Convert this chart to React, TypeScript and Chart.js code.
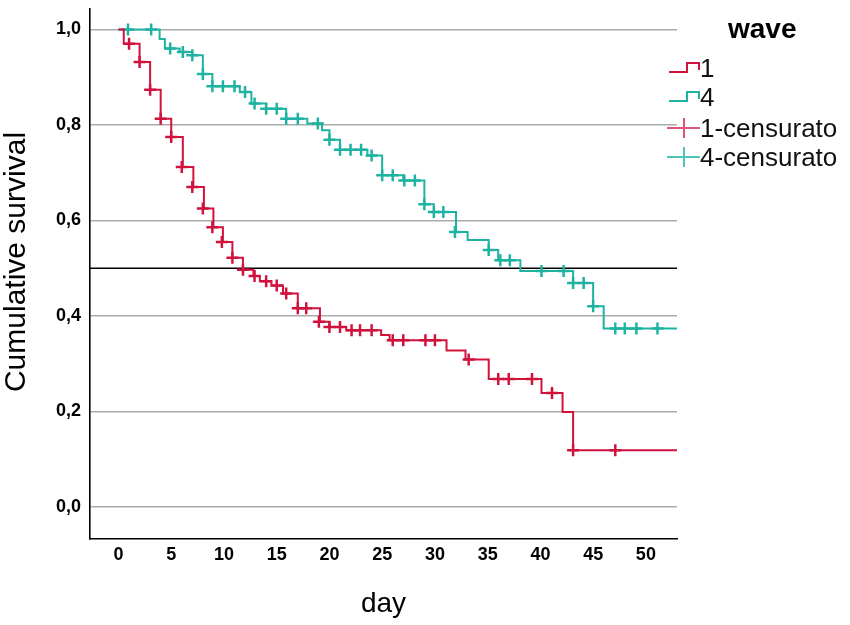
import React, { useEffect, useRef } from 'react';
import { Chart, registerables } from 'chart.js';

Chart.register(...registerables);

// ---- data ----
const wave1Days = [0, 0.5, 2.0, 3.0, 4.0, 5.0, 6.1, 7.1, 8.1, 9.0, 9.9, 10.8, 11.8, 12.8, 13.4, 14.5, 15.6, 17.0, 19.1, 20.0, 21.6, 24.9, 25.7, 31.1, 32.9, 35.1, 40.1, 42.1, 43.1, 53];
const wave1Surv = [1.0, 0.970, 0.932, 0.874, 0.813, 0.775, 0.712, 0.670, 0.625, 0.586, 0.555, 0.522, 0.497, 0.484, 0.473, 0.464, 0.447, 0.416, 0.388, 0.377, 0.370, 0.360, 0.349, 0.328, 0.309, 0.268, 0.239, 0.199, 0.119, 0.119];

const wave4Days = [0, 3.9, 4.4, 5.8, 7.0, 8.0, 8.9, 11.5, 12.6, 14.0, 15.9, 17.9, 19.3, 20.0, 21.0, 23.6, 25.0, 27.0, 29.0, 29.9, 32.0, 33.1, 35.1, 36.0, 38.1, 43.1, 45.0, 46.0, 53];
const wave4Surv = [1.0, 0.980, 0.960, 0.953, 0.946, 0.907, 0.881, 0.869, 0.845, 0.834, 0.813, 0.803, 0.789, 0.769, 0.748, 0.736, 0.695, 0.684, 0.634, 0.618, 0.576, 0.559, 0.538, 0.517, 0.494, 0.469, 0.4205, 0.374, 0.374];

const cens1Days = [1.0, 2.0, 3.0, 4.0, 5.0, 6.0, 7.0, 8.0, 8.9, 9.8, 10.8, 11.8, 12.9, 14.0, 15.0, 15.9, 17.0, 17.8, 19.0, 20.0, 21.0, 22.1, 22.9, 24.0, 26.0, 27.0, 29.1, 30.0, 33.2, 36.0, 37.0, 39.2, 41.1, 43.1, 47.1];
const cens1Surv = [0.970, 0.932, 0.874, 0.813, 0.775, 0.712, 0.670, 0.625, 0.586, 0.555, 0.522, 0.497, 0.484, 0.473, 0.464, 0.447, 0.416, 0.416, 0.388, 0.377, 0.377, 0.370, 0.370, 0.370, 0.349, 0.349, 0.349, 0.349, 0.309, 0.268, 0.268, 0.268, 0.239, 0.119, 0.119];

const cens4Days = [0.9, 3.1, 4.9, 6.1, 7.0, 8.0, 8.9, 9.9, 11.0, 12.0, 12.9, 14.0, 15.0, 15.9, 17.0, 18.9, 20.0, 21.0, 22.0, 23.0, 24.0, 25.0, 26.0, 27.1, 28.1, 29.0, 29.9, 30.8, 31.9, 35.1, 36.2, 37.1, 40.1, 42.2, 43.1, 44.1, 45.0, 47.1, 48.0, 49.1, 51.1];
const cens4Surv = [1.0, 1.0, 0.960, 0.953, 0.946, 0.907, 0.881, 0.881, 0.881, 0.869, 0.845, 0.834, 0.834, 0.813, 0.813, 0.803, 0.769, 0.748, 0.748, 0.748, 0.736, 0.695, 0.695, 0.684, 0.684, 0.634, 0.618, 0.618, 0.576, 0.538, 0.517, 0.517, 0.494, 0.494, 0.469, 0.469, 0.4205, 0.374, 0.374, 0.374, 0.374];

const xTicks = [0, 5, 10, 15, 20, 25, 30, 35, 40, 45, 50];
const yTicks = [0, 0.2, 0.4, 0.6, 0.8, 1.0];
const yTickLabels = ['0,0', '0,2', '0,4', '0,6', '0,8', '1,0'];
const medianLevel = 0.5;

const legendTitle = 'wave';
const legendLabels = ['1', '4', '1-censurato', '4-censurato'];

const RED = '#D0123C';
const TEAL = '#1EB3A1';
const RED_LIGHT = '#E0557A';
const TEAL_LIGHT = '#4EC5B6';
const FONT = '"Liberation Sans", Arial, sans-serif';

const toPoints = (xs: number[], ys: number[]) => xs.map((x, i) => ({ x, y: ys[i] }));

const refLinePlugin = {
  id: 'refLine',
  beforeDatasetsDraw(chart: any) {
    const { ctx, chartArea, scales } = chart;
    const y = scales.y.getPixelForValue(medianLevel);
    ctx.save();
    ctx.strokeStyle = '#000000';
    ctx.lineWidth = 1.6;
    ctx.beginPath();
    ctx.moveTo(chartArea.left, y);
    ctx.lineTo(chartArea.right, y);
    ctx.stroke();
    ctx.restore();
  },
};

const decorPlugin = {
  id: 'decor',
  afterDraw(chart: any) {
    const { ctx } = chart;
    ctx.save();
    // y axis title
    ctx.save();
    ctx.translate(25, 262);
    ctx.rotate(-Math.PI / 2);
    ctx.fillStyle = '#000';
    ctx.font = `30px ${FONT}`;
    ctx.textAlign = 'center';
    ctx.textBaseline = 'alphabetic';
    ctx.fillText('Cumulative survival', 0, 0);
    ctx.restore();

    // legend
    ctx.fillStyle = '#000';
    ctx.font = `bold 28px ${FONT}`;
    ctx.textAlign = 'left';
    ctx.textBaseline = 'alphabetic';
    ctx.fillText(legendTitle, 728, 38);

    ctx.lineWidth = 2;
    const drawStep = (y: number, color: string) => {
      ctx.strokeStyle = color;
      ctx.beginPath();
      ctx.moveTo(669, y + 4);
      ctx.lineTo(687, y + 4);
      ctx.lineTo(687, y - 5);
      ctx.lineTo(699, y - 5);
      ctx.lineTo(699, y + 2);
      ctx.stroke();
    };
    const drawCross = (y: number, color: string) => {
      ctx.strokeStyle = color;
      ctx.beginPath();
      ctx.moveTo(667, y);
      ctx.lineTo(700, y);
      ctx.moveTo(684, y - 10);
      ctx.lineTo(684, y + 10);
      ctx.stroke();
    };
    drawStep(68, RED);
    drawStep(97, TEAL);
    drawCross(128, RED_LIGHT);
    drawCross(157, TEAL_LIGHT);

    ctx.fillStyle = '#111';
    ctx.font = `26px ${FONT}`;
    ctx.textBaseline = 'middle';
    const ys = [70, 99, 130, 159];
    legendLabels.forEach((t, i) => ctx.fillText(t, 700, ys[i]));
    ctx.restore();
  },
};

export default function App() {
  const ref = useRef<HTMLCanvasElement | null>(null);

  useEffect(() => {
    if (!ref.current) return;
    const chart = new Chart(ref.current, {
      type: 'line',
      data: {
        datasets: [
          {
            label: '1',
            data: toPoints(wave1Days, wave1Surv),
            stepped: true,
            borderColor: RED,
            borderWidth: 2,
            pointRadius: 0,
            fill: false,
          },
          {
            label: '4',
            data: toPoints(wave4Days, wave4Surv),
            stepped: true,
            borderColor: TEAL,
            borderWidth: 2,
            pointRadius: 0,
            fill: false,
          },
          {
            type: 'scatter',
            label: '1-censurato',
            data: toPoints(cens1Days, cens1Surv),
            pointStyle: 'cross',
            pointRadius: 6,
            pointBorderWidth: 2.5,
            pointBorderColor: RED,
            borderColor: RED,
            showLine: false,
          } as any,
          {
            type: 'scatter',
            label: '4-censurato',
            data: toPoints(cens4Days, cens4Surv),
            pointStyle: 'cross',
            pointRadius: 6,
            pointBorderWidth: 2.5,
            pointBorderColor: TEAL,
            borderColor: TEAL,
            showLine: false,
          } as any,
        ],
      },
      options: {
        animation: false,
        responsive: false,
        devicePixelRatio: 1,
        layout: { padding: { left: 0, top: 0, right: 173, bottom: 0 } },
        plugins: {
          legend: { display: false },
          tooltip: { enabled: false },
        },
        scales: {
          x: {
            type: 'linear',
            min: -2.7,
            max: 52.95,
            afterBuildTicks: (s: any) => {
              s.ticks = xTicks.map((v) => ({ value: v }));
            },
            afterFit: (s: any) => {
              s.height = 86;
              s.paddingLeft = 0;
              s.paddingRight = 0;
            },
            grid: { display: false, drawTicks: false },
            border: { display: true, color: '#000', width: 1.6 },
            ticks: {
              color: '#000',
              padding: 5,
              font: { family: FONT, size: 18, weight: 'bold' },
              maxRotation: 0,
              autoSkip: false,
            },
            title: {
              display: true,
              text: 'day',
              color: '#000',
              font: { family: FONT, size: 28, lineHeight: 1.5 },
              padding: 0,
            },
          },
          y: {
            type: 'linear',
            min: -0.067,
            max: 1.044,
            afterBuildTicks: (s: any) => {
              s.ticks = yTicks.map((v) => ({ value: v }));
            },
            afterFit: (s: any) => {
              s.width = 90;
              s.paddingTop = 0;
              s.paddingBottom = 0;
            },
            grid: { display: true, drawTicks: false, color: '#aaaaaa', lineWidth: 1.6 },
            border: { display: true, color: '#000', width: 1.6 },
            ticks: {
              color: '#000',
              padding: 9,
              font: { family: FONT, size: 18, weight: 'bold' },
              autoSkip: false,
              callback: (_v: any, i: number) => yTickLabels[i],
            },
          },
        },
      },
      plugins: [refLinePlugin, decorPlugin],
    } as any);
    return () => chart.destroy();
  }, []);

  return (
    <div style={{ position: 'fixed', left: 0, top: 0, width: 850, height: 625, background: '#fff' }}>
      <canvas ref={ref} width={850} height={625} />
    </div>
  );
}
